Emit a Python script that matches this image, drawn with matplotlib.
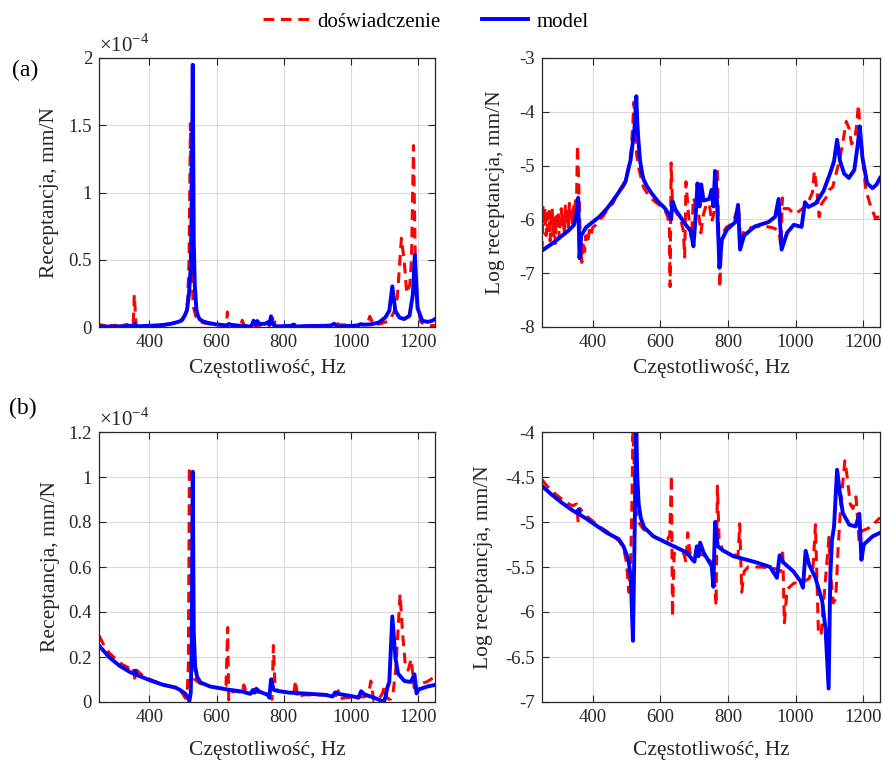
import numpy as np
import matplotlib
matplotlib.use("Agg")
import matplotlib.pyplot as plt
from matplotlib.ticker import FuncFormatter

plt.rcParams['font.family'] = ['Liberation Serif', 'DejaVu Serif']
plt.rcParams['mathtext.fontset'] = 'custom'
plt.rcParams['mathtext.rm'] = 'Liberation Serif'
plt.rcParams['axes.unicode_minus'] = False

# (a) log receptancja - doswiadczenie
f_a_exp = [250, 253, 256, 259, 262, 265, 268, 271, 274, 277, 280, 283, 286, 289, 292, 295, 298,
           301, 304, 307, 310, 313, 316, 319, 322, 325, 328, 331, 334, 337, 340, 343, 346, 349,
           352, 355, 360, 364, 368, 372, 376, 380, 385, 390, 395, 400, 410, 420, 430, 440, 450,
           460, 470, 480, 490, 500, 508, 514, 518, 522, 526, 530, 538, 550, 565, 580, 600, 615,
           622, 627, 629, 632, 636, 645, 660, 668, 672, 676, 682, 688, 692, 698, 705, 712, 720,
           728, 735, 745, 752, 758, 764, 769, 776, 782, 795, 815, 828, 832, 837, 848, 870, 900,
           930, 950, 957, 961, 966, 980, 995, 1010, 1025, 1040, 1050, 1056, 1064, 1070, 1078,
           1090, 1100, 1110, 1118, 1128, 1138, 1150, 1158, 1166, 1175, 1180, 1186, 1192, 1198,
           1208, 1222, 1236, 1250]
log_a_exp = [-6.6, -5.75, -6.1, -5.8, -6.3, -5.9, -6.2, -5.85, -6.4, -6.0, -5.8, -6.3, -5.9, -6.45,
             -5.95, -6.2, -5.85, -6.35, -6.0, -5.8, -6.1, -5.9, -6.3, -5.75, -6.05, -5.85, -6.15,
             -5.7, -5.95, -5.8, -6.1, -5.7, -5.9, -5.65, -5.7, -4.62, -5.6, -6.5, -6.8, -6.4, -6.6,
             -6.3, -6.45, -6.2, -6.3, -6.15, -6.1, -6.0, -5.95, -5.85, -5.75, -5.7, -5.55, -5.45,
             -5.35, -5.2, -5.0, -4.7, -4.3, -3.82, -4.3, -4.8, -5.1, -5.4, -5.55, -5.65, -5.75,
             -5.85, -5.95, -6.2, -7.25, -4.95, -5.7, -5.85, -6.0, -6.2, -6.7, -5.3, -5.8, -6.2,
             -6.35, -5.6, -5.75, -5.8, -6.25, -5.9, -5.75, -5.7, -6.05, -5.9, -5.5, -5.08, -7.27,
             -6.3, -6.15, -6.07, -5.8, -5.76, -6.45, -6.2, -6.15, -6.12, -6.15, -6.2, -6.5, -5.6,
             -5.8, -5.8, -5.9, -5.85, -5.78, -5.65, -5.5, -5.1, -5.5, -5.95, -5.7, -5.6, -5.45,
             -5.4, -5.2, -4.95, -4.65, -4.18, -4.3, -4.6, -4.5, -4.3, -3.87, -4.4, -4.8, -5.45,
             -5.75, -5.97, -5.95]

# (a) log receptancja - model
f_a_mod = [250, 280, 310, 330, 345, 352, 357, 361, 366, 380, 400, 420, 442, 460, 470, 482, 490,
           497, 506, 512, 518, 523, 526, 529, 532, 535, 540, 545, 550, 560, 575, 595, 612, 625,
           632, 636, 645, 672, 690, 698, 704, 710, 716, 721, 728, 745, 752, 757, 762, 768, 775,
           782, 797, 822, 830, 836, 848, 880, 920, 940, 950, 959, 975, 995, 1018, 1028, 1038,
           1060, 1083, 1102, 1114, 1123, 1132, 1144, 1158, 1174, 1184, 1190, 1198, 1212, 1228,
           1240, 1250]
log_a_mod = [-6.58, -6.45, -6.3, -6.2, -6.1, -5.9, -5.6, -6.72, -6.3, -6.15, -6.05, -5.95, -5.8,
             -5.65, -5.56, -5.45, -5.38, -5.3, -5.05, -4.9, -4.6, -4.35, -4.05, -3.71, -4.2, -4.5,
             -4.9, -5.1, -5.25, -5.38, -5.52, -5.68, -5.78, -5.9, -6.0, -5.66, -5.82, -6.07, -6.22,
             -6.5, -6.0, -5.33, -5.76, -5.35, -5.65, -5.62, -5.45, -5.76, -5.1, -5.7, -6.9, -6.38,
             -6.19, -6.05, -5.73, -6.56, -6.3, -6.13, -6.05, -5.95, -5.62, -6.56, -6.25, -6.1,
             -6.14, -5.68, -5.77, -5.7, -5.47, -5.15, -4.92, -4.52, -4.92, -5.15, -5.23, -5.08,
             -4.62, -4.27, -4.85, -5.33, -5.42, -5.35, -5.23]

# (b) log receptancja - doswiadczenie
f_b_exp = [250, 265, 280, 300, 320, 340, 352, 357, 362, 380, 400, 420, 440, 460, 480, 492, 500,
           507, 512, 516, 519, 523, 527, 535, 550, 575, 600, 620, 628, 633, 636, 641, 655, 670,
           676, 681, 688, 700, 715, 735, 752, 760, 765, 769, 774, 785, 810, 830, 835, 841, 848,
           860, 900, 940, 955, 962, 967, 975, 995, 1020, 1040, 1052, 1059, 1068, 1076, 1083,
           1094, 1099, 1104, 1112, 1119, 1126, 1134, 1146, 1153, 1162, 1170, 1179, 1188, 1196,
           1210, 1225, 1250]
log_b_exp = [-4.53, -4.6, -4.66, -4.72, -4.78, -4.82, -4.8, -5.0, -4.85, -4.93, -4.99, -5.05,
             -5.1, -5.15, -5.22, -5.3, -5.45, -5.78, -5.5, -4.8, -3.98, -4.4, -4.85, -5.0, -5.08,
             -5.15, -5.2, -5.2, -5.15, -4.48, -6.05, -5.35, -5.33, -5.35, -5.45, -5.12, -5.35,
             -5.4, -5.35, -5.38, -5.45, -5.6, -5.93, -4.6, -5.2, -5.32, -5.35, -5.38, -5.02,
             -5.78, -5.55, -5.5, -5.5, -5.52, -5.55, -5.3, -6.12, -5.75, -5.68, -5.67, -5.63,
             -5.5, -5.03, -6.25, -6.25, -5.9, -5.4, -5.17, -5.6, -5.9, -5.85, -5.3, -4.8, -4.32,
             -4.5, -4.8, -4.85, -4.72, -5.2, -5.1, -5.08, -5.05, -4.95]

# (b) log receptancja - model
f_b_mod = [250, 280, 310, 340, 353, 358, 362, 380, 403, 442, 477, 491, 506, 513, 519, 523, 526,
           529, 532, 536, 542, 552, 580, 629, 679, 695, 701, 708, 713, 718, 728, 752, 757, 762,
           770, 787, 816, 836, 885, 925, 945, 953, 964, 994, 1015, 1022, 1030, 1040, 1059, 1079,
           1089, 1098, 1103, 1108, 1114, 1123, 1132, 1140, 1159, 1178, 1189, 1195, 1202, 1228,
           1250]
log_b_mod = [-4.6, -4.7, -4.79, -4.87, -4.9, -4.86, -4.92, -4.96, -5.02, -5.12, -5.19, -5.27,
             -5.42, -5.64, -6.32, -5.4, -4.6, -3.99, -4.5, -4.8, -4.95, -5.06, -5.16, -5.25, -5.34,
             -5.42, -5.44, -5.27, -5.38, -5.23, -5.34, -5.49, -5.72, -5.0, -5.27, -5.32, -5.38,
             -5.4, -5.45, -5.5, -5.62, -5.37, -5.45, -5.55, -5.66, -5.73, -5.32, -5.47, -5.62,
             -5.88, -6.2, -6.85, -5.6, -5.2, -5.05, -4.42, -4.7, -4.9, -5.03, -5.05, -4.91, -5.42,
             -5.25, -5.16, -5.12]

x_ticks = [400, 600, 800, 1000, 1200]
lin_a_ticks = [0, 0.5e-4, 1e-4, 1.5e-4, 2e-4]
lin_b_ticks = [0, 0.2e-4, 0.4e-4, 0.6e-4, 0.8e-4, 1e-4, 1.2e-4]
log_a_ticks = [-8, -7, -6, -5, -4, -3]
log_b_ticks = [-7, -6.5, -6, -5.5, -5, -4.5, -4]

xlabel = 'Częstotliwość, Hz'
ylabel_lin = 'Receptancja, mm/N'
ylabel_log = 'Log receptancja, mm/N'

RED = (1, 0, 0)
BLUE = (0, 0, 1)
AXC = (0.15, 0.15, 0.15)
LAB = 15.5
TCK = 13.5

fig = plt.figure(figsize=(8.83, 7.62), dpi=100)
W, H = 883.0, 762.0


def make_ax(l, t, r, b):
    return fig.add_axes([l / W, 1 - b / H, (r - l) / W, (b - t) / H])


def style(ax, xl_y, yl_x):
    ax.set_xlim(250, 1250)
    ax.set_xticks(x_ticks)
    ax.grid(True, color=(0.86, 0.86, 0.86), lw=0.8)
    ax.set_axisbelow(True)
    ax.tick_params(direction='in', top=True, right=True, length=5, width=0.8,
                   labelsize=TCK, colors=AXC, labelcolor=AXC, pad=5)
    for s in ax.spines.values():
        s.set_color(AXC)
        s.set_linewidth(0.9)
    ax.set_xlabel(xlabel, fontsize=LAB, color=AXC)
    ax.xaxis.set_label_coords(0.5, xl_y)
    ax.yaxis.set_label_coords(yl_x, 0.5)


def plot_pair(ax, fe, ve, fm, vm):
    le, = ax.plot(fe, ve, color=RED, lw=2.2, dashes=(3.5, 2.2), label='doświadczenie')
    lm, = ax.plot(fm, vm, color=BLUE, lw=2.8, label='model')
    return le, lm


sci = FuncFormatter(lambda v, p: '%g' % round(v / 1e-4, 3))
plain = FuncFormatter(lambda v, p: '%g' % v)

# (a) linear
ax1 = make_ax(99, 58, 435, 327)
h_exp, h_mod = plot_pair(ax1, f_a_exp, 10.0 ** np.array(log_a_exp), f_a_mod, 10.0 ** np.array(log_a_mod))
ax1.set_ylim(0, 2e-4)
ax1.set_yticks(lin_a_ticks)
ax1.yaxis.set_major_formatter(sci)
ax1.set_ylabel(ylabel_lin, fontsize=LAB, color=AXC)
style(ax1, -0.12, -0.12)
ax1.text(0.0, 1.005, r'$\times10^{-4}$', transform=ax1.transAxes, fontsize=15, color=AXC,
         ha='left', va='bottom')

# (a) log
ax2 = make_ax(542, 58, 880, 327)
plot_pair(ax2, f_a_exp, log_a_exp, f_a_mod, log_a_mod)
ax2.set_ylim(-8, -3)
ax2.set_yticks(log_a_ticks)
ax2.yaxis.set_major_formatter(plain)
ax2.set_ylabel(ylabel_log, fontsize=LAB, color=AXC)
style(ax2, -0.12, -0.11)

# (b) linear
ax3 = make_ax(99, 432, 435, 702)
plot_pair(ax3, f_b_exp, 10.0 ** np.array(log_b_exp), f_b_mod, 10.0 ** np.array(log_b_mod))
ax3.set_ylim(0, 1.2e-4)
ax3.set_yticks(lin_b_ticks)
ax3.yaxis.set_major_formatter(sci)
ax3.set_ylabel(ylabel_lin, fontsize=LAB, color=AXC)
style(ax3, -0.145, -0.115)
ax3.text(0.0, 1.005, r'$\times10^{-4}$', transform=ax3.transAxes, fontsize=15, color=AXC,
         ha='left', va='bottom')

# (b) log
ax4 = make_ax(542, 432, 880, 702)
plot_pair(ax4, f_b_exp, log_b_exp, f_b_mod, log_b_mod)
ax4.set_ylim(-7, -4)
ax4.set_yticks(log_b_ticks)
ax4.yaxis.set_major_formatter(plain)
ax4.set_ylabel(ylabel_log, fontsize=LAB, color=AXC)
style(ax4, -0.145, -0.145)

fig.text(12 / W, 1 - 70 / H, '(a)', fontsize=17, va='center', ha='left')
fig.text(9 / W, 1 - 408 / H, '(b)', fontsize=17, va='center', ha='left')

fig.legend([h_exp, h_mod], ['doświadczenie', 'model'], loc='center', ncol=2,
           bbox_to_anchor=(426 / W, 1 - 22 / H), frameon=False, fontsize=15,
           handlelength=2.2, columnspacing=2.0, handletextpad=0.4)

fig.savefig('out.png', dpi=100)
